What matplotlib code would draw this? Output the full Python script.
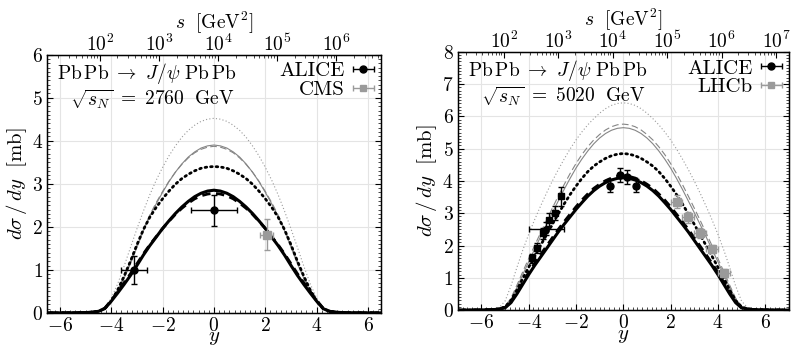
import numpy as np
import matplotlib
matplotlib.use("Agg")
import matplotlib.pyplot as plt
from matplotlib.ticker import MultipleLocator, LogLocator, NullFormatter

plt.rcParams['font.family'] = 'serif'
plt.rcParams['font.serif'] = ['cmr10']
plt.rcParams['mathtext.fontset'] = 'cm'
plt.rcParams['axes.formatter.use_mathtext'] = True
plt.rcParams['axes.unicode_minus'] = True

M_JPSI = 3.097

# rapidity grid (y >= 0), curves are symmetric in y
y_half = [0, 0.25, 0.5, 0.75, 1.0, 1.25, 1.5, 1.75, 2.0, 2.25, 2.5, 2.75, 3.0,
          3.25, 3.5, 3.75, 4.0, 4.25, 4.5, 4.75, 5.0, 5.25, 5.5, 6.0, 6.5, 7.0]

# sqrt(s_N) = 2760 GeV
thick_solid_2760 = [2.85, 2.83, 2.78, 2.70, 2.59, 2.46, 2.31, 2.14, 1.96, 1.76, 1.56, 1.34, 1.10,
                    0.87, 0.66, 0.46, 0.27, 0.10, 0.035, 0.015, 0.008, 0.005, 0.003, 0.001, 0.0, 0.0]
thick_dashed_2760 = [2.78, 2.76, 2.72, 2.65, 2.55, 2.43, 2.29, 2.13, 1.96, 1.77, 1.58, 1.37, 1.14,
                     0.91, 0.70, 0.49, 0.29, 0.11, 0.04, 0.016, 0.009, 0.005, 0.003, 0.001, 0.0, 0.0]
thick_dotted_2760 = [3.40, 3.39, 3.36, 3.30, 3.22, 3.12, 2.99, 2.83, 2.65, 2.45, 2.22, 1.93, 1.58,
                     1.20, 0.85, 0.53, 0.27, 0.10, 0.04, 0.016, 0.009, 0.005, 0.003, 0.001, 0.0, 0.0]
gray_solid_2760 = [3.90, 3.88, 3.83, 3.74, 3.62, 3.46, 3.27, 3.05, 2.80, 2.53, 2.24, 1.90, 1.52,
                   1.14, 0.80, 0.50, 0.25, 0.08, 0.03, 0.015, 0.008, 0.005, 0.003, 0.001, 0.0, 0.0]
gray_dashed_2760 = [3.87, 3.85, 3.80, 3.72, 3.60, 3.45, 3.27, 3.06, 2.82, 2.56, 2.27, 1.94, 1.57,
                    1.19, 0.84, 0.53, 0.27, 0.09, 0.035, 0.016, 0.009, 0.005, 0.003, 0.001, 0.0, 0.0]
thin_dotted_2760 = [4.52, 4.50, 4.45, 4.36, 4.24, 4.08, 3.88, 3.65, 3.38, 3.08, 2.74, 2.36, 1.95,
                    1.52, 1.08, 0.67, 0.34, 0.12, 0.04, 0.015, 0.008, 0.005, 0.003, 0.001, 0.0, 0.0]

# sqrt(s_N) = 5020 GeV
thick_solid_5020 = [4.10, 4.08, 4.03, 3.95, 3.84, 3.70, 3.53, 3.33, 3.12, 2.89, 2.66, 2.42, 2.16,
                    1.90, 1.64, 1.38, 1.10, 0.80, 0.50, 0.23, 0.07, 0.03, 0.015, 0.005, 0.002, 0.0]
thick_dashed_5020 = [4.16, 4.14, 4.09, 4.01, 3.90, 3.77, 3.60, 3.41, 3.20, 2.97, 2.74, 2.50, 2.24,
                     1.98, 1.72, 1.45, 1.17, 0.86, 0.55, 0.26, 0.08, 0.035, 0.017, 0.006, 0.002, 0.0]
thick_dotted_5020 = [4.85, 4.83, 4.78, 4.70, 4.59, 4.46, 4.29, 4.08, 3.84, 3.58, 3.29, 2.98, 2.66,
                     2.33, 2.00, 1.67, 1.33, 0.98, 0.62, 0.30, 0.10, 0.04, 0.02, 0.006, 0.002, 0.0]
gray_solid_5020 = [5.65, 5.63, 5.57, 5.47, 5.33, 5.15, 4.93, 4.68, 4.40, 4.08, 3.74, 3.38, 3.02,
                   2.65, 2.27, 1.89, 1.50, 1.10, 0.70, 0.33, 0.10, 0.04, 0.02, 0.006, 0.002, 0.0]
gray_dashed_5020 = [5.76, 5.74, 5.68, 5.58, 5.44, 5.27, 5.06, 4.82, 4.54, 4.23, 3.89, 3.53, 3.16,
                    2.78, 2.39, 2.00, 1.60, 1.19, 0.77, 0.37, 0.12, 0.045, 0.02, 0.006, 0.002, 0.0]
thin_dotted_5020 = [6.42, 6.40, 6.34, 6.24, 6.10, 5.93, 5.74, 5.52, 5.27, 4.99, 4.68, 4.35, 4.00,
                    3.62, 3.22, 2.80, 2.35, 1.86, 1.32, 0.75, 0.28, 0.08, 0.03, 0.008, 0.002, 0.0]

# data 2760
alice_2760_y = [-3.1, 0.0]
alice_2760_v = [1.0, 2.38]
alice_2760_xe = [0.5, 0.9]
alice_2760_ye = [0.32, 0.35]
cms_2760_y = [2.05]
cms_2760_v = [1.82]
cms_2760_xe = [0.25]
cms_2760_ye = [0.36]

# data 5020
alice_mid_y = [-0.55, -0.15, 0.15, 0.55]
alice_mid_v = [3.85, 4.18, 4.12, 3.85]
alice_mid_ye = [0.2, 0.22, 0.22, 0.2]
alice_fwd_y = [-3.88, -3.63, -3.38, -3.13, -2.88, -2.63]
alice_fwd_v = [1.6, 1.92, 2.38, 2.8, 3.0, 3.52]
alice_fwd_ye = [0.15, 0.15, 0.17, 0.2, 0.22, 0.3]
alice_int_y = [-3.25]
alice_int_v = [2.52]
alice_int_xe = [0.75]
alice_int_ye = [0.2]
lhcb_y = [2.25, 2.75, 3.25, 3.75, 4.25]
lhcb_v = [3.35, 2.87, 2.38, 1.9, 1.15]
lhcb_ye = [0.2, 0.18, 0.15, 0.13, 0.12]

GRAY_LINE = '#858585'
GRAY_DOT = '#9a9a9a'
GRAY_PT = '#9a9a9a'
FS = 14


def mirror(v):
    v = np.asarray(v, dtype=float)
    return np.concatenate([v[::-1], v[1:]])


yy = np.concatenate([-np.asarray(y_half)[::-1], np.asarray(y_half)[1:]])


def draw_curves(ax, c):
    ax.plot(yy, mirror(c[5]), color=GRAY_DOT, lw=0.8, ls=(0, (1, 2)))
    ax.plot(yy, mirror(c[4]), color=GRAY_LINE, lw=0.8, ls=(0, (6, 3)))
    ax.plot(yy, mirror(c[3]), color=GRAY_LINE, lw=0.8, ls='-')
    ax.plot(yy, mirror(c[2]), color='black', lw=2.0, ls=(0, (0.6, 1.4)), dash_capstyle='round')
    ax.plot(yy, mirror(c[1]), color='black', lw=2.0, ls=(0, (3, 2)))
    ax.plot(yy, mirror(c[0]), color='black', lw=2.2, ls='-')


def legend(ax, names, markers, colors):
    handles = []
    for m, col in zip(markers, colors):
        h = ax.errorbar([np.nan], [np.nan], xerr=[0.1], fmt=m, color=col, ms=5,
                        elinewidth=1.0, capsize=2.5, capthick=1.0)
        handles.append(h)
    ax.legend(handles, names, loc='upper right', frameon=False, markerfirst=False,
              fontsize=15, handlelength=1.0, handletextpad=0.4, borderaxespad=0.15,
              labelspacing=0.0, borderpad=0.2)


def style(ax, xmax, ymax, sqrt_s):
    ax.set_xlim(-xmax, xmax)
    ax.set_ylim(0, ymax)
    ax.xaxis.set_major_locator(MultipleLocator(2))
    ax.xaxis.set_minor_locator(MultipleLocator(0.2))
    ax.yaxis.set_major_locator(MultipleLocator(1))
    ax.yaxis.set_minor_locator(MultipleLocator(0.1))
    ax.tick_params(which='both', direction='in', top=False, right=True, labelsize=FS)
    ax.tick_params(which='major', length=4, width=0.8, pad=3)
    ax.tick_params(which='minor', length=2, width=0.5)
    ax.grid(True, which='major', color='#e4e4e4', lw=0.8)
    ax.set_axisbelow(True)
    ax.set_xlabel(r'$y$', fontsize=15, labelpad=-4)
    ax.set_ylabel(r'$d\sigma\,/\,dy\ \ [\mathrm{mb}]$', fontsize=15, labelpad=2)
    for sp in ax.spines.values():
        sp.set_linewidth(1.0)

    top = ax.twiny()
    c = M_JPSI * sqrt_s
    top.set_xscale('log')
    top.set_xlim(c * np.exp(-xmax), c * np.exp(xmax))
    top.xaxis.set_major_locator(LogLocator(base=10, numticks=20))
    top.xaxis.set_minor_locator(LogLocator(base=10, subs=np.arange(2, 10), numticks=20))
    top.xaxis.set_minor_formatter(NullFormatter())
    top.tick_params(which='both', direction='in', labelsize=FS, pad=0)
    top.tick_params(which='major', length=4, width=0.8)
    top.tick_params(which='minor', length=2, width=0.5)
    top.set_xlabel(r'$s\ \ [\mathrm{GeV}^2]$', fontsize=FS, labelpad=3)

    ax.text(0.03, 0.975, r'$\mathrm{Pb}\,\mathrm{Pb}\ \rightarrow\ J/\psi\ \mathrm{Pb}\,\mathrm{Pb}$',
            transform=ax.transAxes, fontsize=FS, va='top', ha='left')
    ax.text(0.07, 0.875, r'$\sqrt{s_N}\ =\ %d\ \ \mathrm{GeV}$' % sqrt_s,
            transform=ax.transAxes, fontsize=FS, va='top', ha='left')


fig = plt.figure(figsize=(7.92, 3.5), dpi=100)
ax1 = fig.add_axes([0.0593, 0.106, 0.4217, 0.738])
ax2 = fig.add_axes([0.578, 0.114, 0.418, 0.738])

draw_curves(ax1, [thick_solid_2760, thick_dashed_2760, thick_dotted_2760,
                  gray_solid_2760, gray_dashed_2760, thin_dotted_2760])
ax1.errorbar(alice_2760_y, alice_2760_v, xerr=alice_2760_xe, yerr=alice_2760_ye,
             fmt='o', color='black', ms=5, elinewidth=1.0, capsize=2.5, capthick=1.0, zorder=5)
ax1.errorbar(cms_2760_y, cms_2760_v, xerr=cms_2760_xe, yerr=cms_2760_ye,
             fmt='s', color=GRAY_PT, ms=5.5, elinewidth=1.0, capsize=2.5, capthick=1.0, zorder=5)
legend(ax1, ['ALICE', 'CMS'], ['o', 's'], ['black', GRAY_PT])
style(ax1, 6.5, 6, 2760)

draw_curves(ax2, [thick_solid_5020, thick_dashed_5020, thick_dotted_5020,
                  gray_solid_5020, gray_dashed_5020, thin_dotted_5020])
ax2.errorbar(alice_mid_y, alice_mid_v, xerr=0.08, yerr=alice_mid_ye,
             fmt='o', color='black', ms=5, elinewidth=1.0, capsize=2.5, capthick=1.0, zorder=5)
ax2.errorbar(alice_fwd_y, alice_fwd_v, xerr=0.08, yerr=alice_fwd_ye,
             fmt='s', color='black', ms=5, elinewidth=1.0, capsize=2.5, capthick=1.0, zorder=5)
ax2.errorbar(alice_int_y, alice_int_v, xerr=alice_int_xe, yerr=alice_int_ye,
             fmt='o', color='black', ms=4, elinewidth=1.0, capsize=2.5, capthick=1.0, zorder=5)
ax2.errorbar(lhcb_y, lhcb_v, xerr=0.25, yerr=lhcb_ye,
             fmt='s', color=GRAY_PT, ms=6, elinewidth=1.0, capsize=2.0, capthick=1.0, zorder=5)
legend(ax2, ['ALICE', 'LHCb'], ['o', 's'], ['black', GRAY_PT])
style(ax2, 7.0, 8, 5020)

fig.savefig('out.png', dpi=100)
